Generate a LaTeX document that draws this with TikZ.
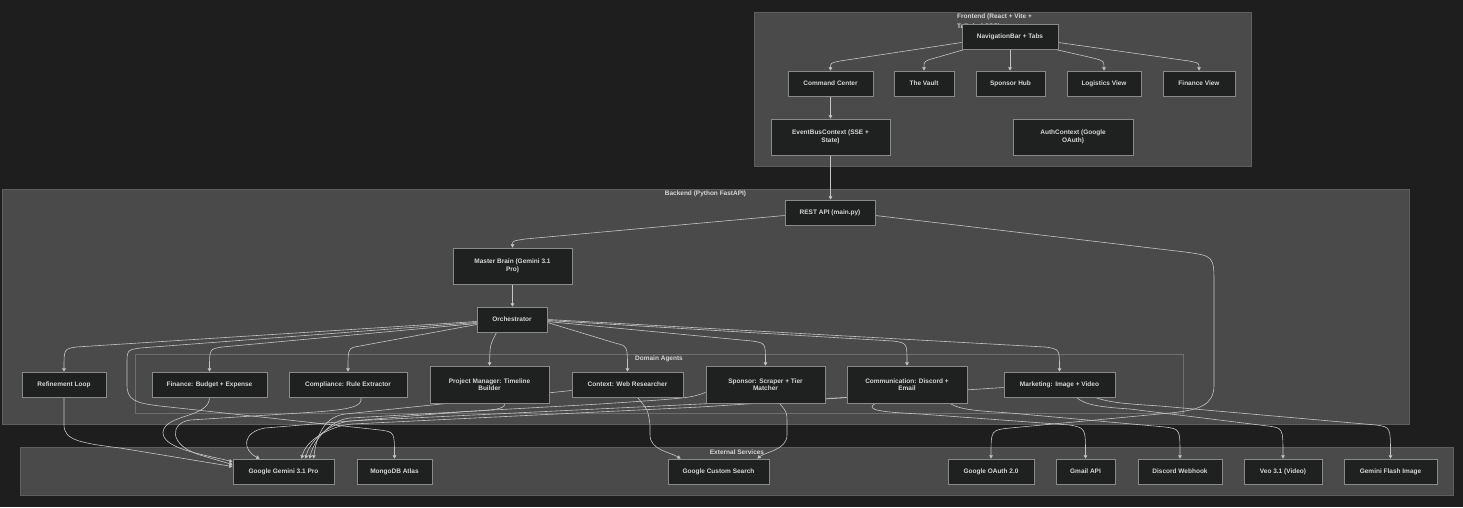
\documentclass[tikz,border=0pt]{standalone}
\usepackage{fontspec}
\usetikzlibrary{arrows.meta,calc}
\newfontfamily\lsans{Liberation Sans}
\newcommand\nodefont{\lsans\bfseries\fontsize{6.5}{7.6}\selectfont}
\newcommand\frontlabelfont{\lsans\bfseries\fontsize{6.5}{9.5}\selectfont}
\definecolor{pagebg}{HTML}{1E1E1E}
\definecolor{clusterfill}{HTML}{494A49}
\definecolor{clusterline}{HTML}{5E5E5E}
\definecolor{subline}{HTML}{6E6E6E}
\definecolor{nodefill}{HTML}{1F2020}
\definecolor{nodeline}{HTML}{8A8A8A}
\definecolor{nodetext}{HTML}{D6D6D6}
\definecolor{edgecol}{HTML}{C4C4C4}
\pgfdeclarelayer{bg}
\pgfdeclarelayer{edges}
\pgfsetlayers{bg,edges,main}
\tikzset{
  box/.style={draw=nodeline, fill=nodefill, text=nodetext, font=\nodefont, line width=0.9pt, inner sep=0pt, align=center, minimum height=25pt},
  tall/.style={minimum height=37pt},
  cluster/.style={draw=clusterline, fill=clusterfill, line width=1pt},
  subcluster/.style={draw=subline, line width=0.6pt},
  clabel/.style={text=nodetext, font=\nodefont, inner sep=0pt},
  conn/.style={draw=edgecol, line width=0.6pt, -{Triangle[length=3.2pt,width=3.6pt]}},
}
\begin{document}
\begin{tikzpicture}[x=1pt,y=-1pt]
\useasboundingbox (0,0) rectangle (1463,507);
\begin{pgfonlayer}{bg}
\fill[pagebg] (0,0) rectangle (1463,507);
\draw[cluster] (754,12) rectangle (1251,166);
\draw[cluster] (2,189) rectangle (1409,424);
\draw[subcluster] (135,354) rectangle (1183,413);
\draw[cluster] (20,447) rectangle (1453,495);
\node[clabel, font=\frontlabelfont, anchor=north west, align=left] (lblfront) at (957,14) {Frontend (React + Vite +\\Tailwind CSS)};
\node[clabel] (lblback) at (705.5,193.5) {Backend (Python FastAPI)};
\node[clabel] (lblagents) at (659,359) {Domain Agents};
\node[clabel] (lblext) at (737,452) {External Services};
\end{pgfonlayer}

% Frontend
\node[box, minimum width=96pt] (nav) at (1010,36.5) {NavigationBar + Tabs};
\node[box, minimum width=85pt] (cc) at (830.5,83.5) {Command Center};
\node[box, minimum width=60pt] (vault) at (924,83.5) {The Vault};
\node[box, minimum width=69pt] (hub) at (1010.5,83.5) {Sponsor Hub};
\node[box, minimum width=74pt] (logi) at (1104,83.5) {Logistics View};
\node[box, minimum width=72pt] (finv) at (1199,83.5) {Finance View};
\node[box, tall, minimum width=119pt, minimum height=36pt] (eb) at (830.5,137) {EventBusContext (SSE +\\State)};
\node[box, tall, minimum width=120pt, minimum height=36pt] (auth) at (1073,137) {AuthContext (Google\\OAuth)};

% Backend
\node[box, minimum width=90pt] (rest) at (830,212.5) {REST API (main.py)};
\node[box, tall, minimum width=119pt, minimum height=36pt] (mb) at (512.5,266) {Master Brain (Gemini 3.1\\Pro)};
\node[box, minimum width=70pt] (orch) at (512,319.5) {Orchestrator};
\node[box, minimum width=84pt] (refine) at (64,384.5) {Refinement Loop};
\node[box, minimum width=115pt] (fin) at (209.5,384.5) {Finance: Budget + Expense};
\node[box, minimum width=118pt] (comp) at (348,384.5) {Compliance: Rule Extractor};
\node[box, tall, minimum width=119pt] (pm) at (489.5,384.5) {Project Manager: Timeline\\Builder};
\node[box, minimum width=111pt] (ctx) at (627.5,384.5) {Context: Web Researcher};
\node[box, tall, minimum width=119pt] (spon) at (765.5,384.5) {Sponsor: Scraper + Tier\\Matcher};
\node[box, tall, minimum width=120pt] (comm) at (907,384.5) {Communication: Discord +\\Email};
\node[box, minimum width=111pt] (mkt) at (1059.5,384.5) {Marketing: Image + Video};

% External
\node[box, minimum width=101pt] (gem) at (283.5,471.5) {Google Gemini 3.1 Pro};
\node[box, minimum width=75pt] (mongo) at (394.5,471.5) {MongoDB Atlas};
\node[box, minimum width=101pt] (gcs) at (718.5,471.5) {Google Custom Search};
\node[box, minimum width=86pt] (oauth) at (991,471.5) {Google OAuth 2.0};
\node[box, minimum width=59pt] (gmail) at (1085.5,471.5) {Gmail API};
\node[box, minimum width=84pt] (discord) at (1180,471.5) {Discord Webhook};
\node[box, minimum width=78pt] (veo) at (1283,471.5) {Veo 3.1 (Video)};
\node[box, minimum width=93pt] (flash) at (1390.5,471.5) {Gemini Flash Image};

\begin{pgfonlayer}{edges}
% frontend
\draw[conn] ($(nav.west)+(0,6)$) -- (840,61) .. controls (830.5,63) .. (cc.north);
\draw[conn] ($(nav.south west)+(3,0)$) -- (935,58) .. controls (924,61) .. (vault.north);
\draw[conn] (nav.south) -- (nav.south |- hub.north);
\draw[conn] ($(nav.south east)+(-3,0)$) -- (1093,58) .. controls (1104,61) .. (logi.north);
\draw[conn] ($(nav.east)+(0,6)$) -- (1189,61) .. controls (1199,63) .. (finv.north);
\draw[conn] (cc.south) -- (eb.north);
\draw[conn] (eb.south) -- (eb.south |- rest.north);
% backend
\draw[conn] ($(rest.west)+(0,3)$) -- (525,239) .. controls (512.5,241) .. (mb.north);
\draw[conn] ($(rest.east)+(0,3)$) -- (1185,252) .. controls (1214,256) .. (1214,285) -- (1214,385) .. controls (1214,405) and (1200,410) .. (1170,413) -- (1010,428) .. controls (991,430) .. (oauth.north);
\draw[conn] (mb.south) -- (mb.south |- orch.north);
\draw[conn] ($(orch.west)+(0,2)$) -- (76,347) .. controls (64,349) .. (refine.north);
\draw[conn] ($(orch.west)+(0,3)$) -- (140,348) .. controls (127,350) .. (127,365) -- (127,385) .. controls (127,400) and (135,403) .. (160,406) -- (380,430) .. controls (394.5,432) .. (mongo.north);
\draw[conn] ($(orch.west)+(0,4)$) -- (222,347) .. controls (209.5,349) .. (fin.north);
\draw[conn] ($(orch.west)+(0,5)$) -- (360,346) .. controls (348,348) .. (comp.north);
\draw[conn] ($(orch.south west)+(20,0)$) .. controls (490,345) .. (pm.north);
\draw[conn] ($(orch.east)+(0,3)$) -- (615,343) .. controls (627.5,346) .. (ctx.north);
\draw[conn] ($(orch.east)+(0,2)$) -- (752,341) .. controls (765.5,343) .. (spon.north);
\draw[conn] ($(orch.east)+(0,1)$) -- (893,341) .. controls (907,343) .. (comm.north);
\draw[conn] ($(orch.east)+(0,0)$) -- (1045,347) .. controls (1059.5,349) .. (mkt.north);
% agents to gemini
\draw[conn] (refine.south) -- (64,425) .. controls (64,440) and (80,443) .. (120,448) -- ($(gem.north west)+(0,8)$);
\draw[conn] (fin.south) .. controls (209.5,418) and (165,414) .. (163,432) .. controls (162,448) and (200,454) .. ($(gem.north west)+(0,3)$);
\draw[conn] ($(comp.south)+(13,0)$) .. controls (363,407) and (350,410) .. (300,413) -- (190,420) .. controls (170,423) and (168,445) .. (200,455) -- ($(gem.north west)+(0,6)$);
\draw[conn] ($(pm.south)+(15,0)$) .. controls (506,410) and (490,410) .. (460,412) -- (265,428) .. controls (242,432) and (242,450) .. ($(gem.north west)+(27,0)$);
\draw[conn] ($(ctx.west)+(0,6)$) -- (345,414) .. controls (322,417) and (316,440) .. ($(gem.north west)+(81,0)$);
\draw[conn] ($(spon.west)+(0,8)$) .. controls (690,398) .. (600,404) -- (350,418) .. controls (330,420) and (314,440) .. ($(gem.north west)+(77,0)$);
\draw[conn] ($(comm.west)+(0,13)$) -- (700,404) -- (350,421) .. controls (330,423) and (310,440) .. ($(gem.north west)+(73,0)$);
\draw[conn] ($(mkt.west)+(0,3)$) -- (700,407) -- (352,424) .. controls (330,426) and (306,440) .. ($(gem.north west)+(69,0)$);
% agents to other services
\draw[conn] ($(ctx.south)+(10,0)$) .. controls (648,410) .. (650,425) -- (650,435) .. controls (650,450) and (670,452) .. ($(gcs.north west)+(13,0)$);
\draw[conn] ($(spon.south)+(14,0)$) .. controls (787,412) .. (787,425) -- (787,435) .. controls (787,450) and (765,452) .. ($(gcs.north east)+(-12,0)$);
\draw[conn] ($(comm.south)+(-32,0)$) .. controls (865,410) and (880,412) .. (920,414) -- (1070,425) .. controls (1085.5,428) .. (gmail.north);
\draw[conn] ($(comm.south)+(43,0)$) .. controls (960,410) and (980,411) .. (1010,413) -- (1165,427) .. controls (1180,429) .. (discord.north);
\draw[conn] ($(mkt.south)+(17,0)$) .. controls (1085,405) and (1100,407) .. (1130,409) -- (1268,426) .. controls (1283,428) .. (veo.north);
\draw[conn] ($(mkt.south)+(36,0)$) .. controls (1110,403) and (1130,404) .. (1160,406) -- (1376,425) .. controls (1390.5,427) .. (flash.north);
\end{pgfonlayer}
\end{tikzpicture}
\end{document}
